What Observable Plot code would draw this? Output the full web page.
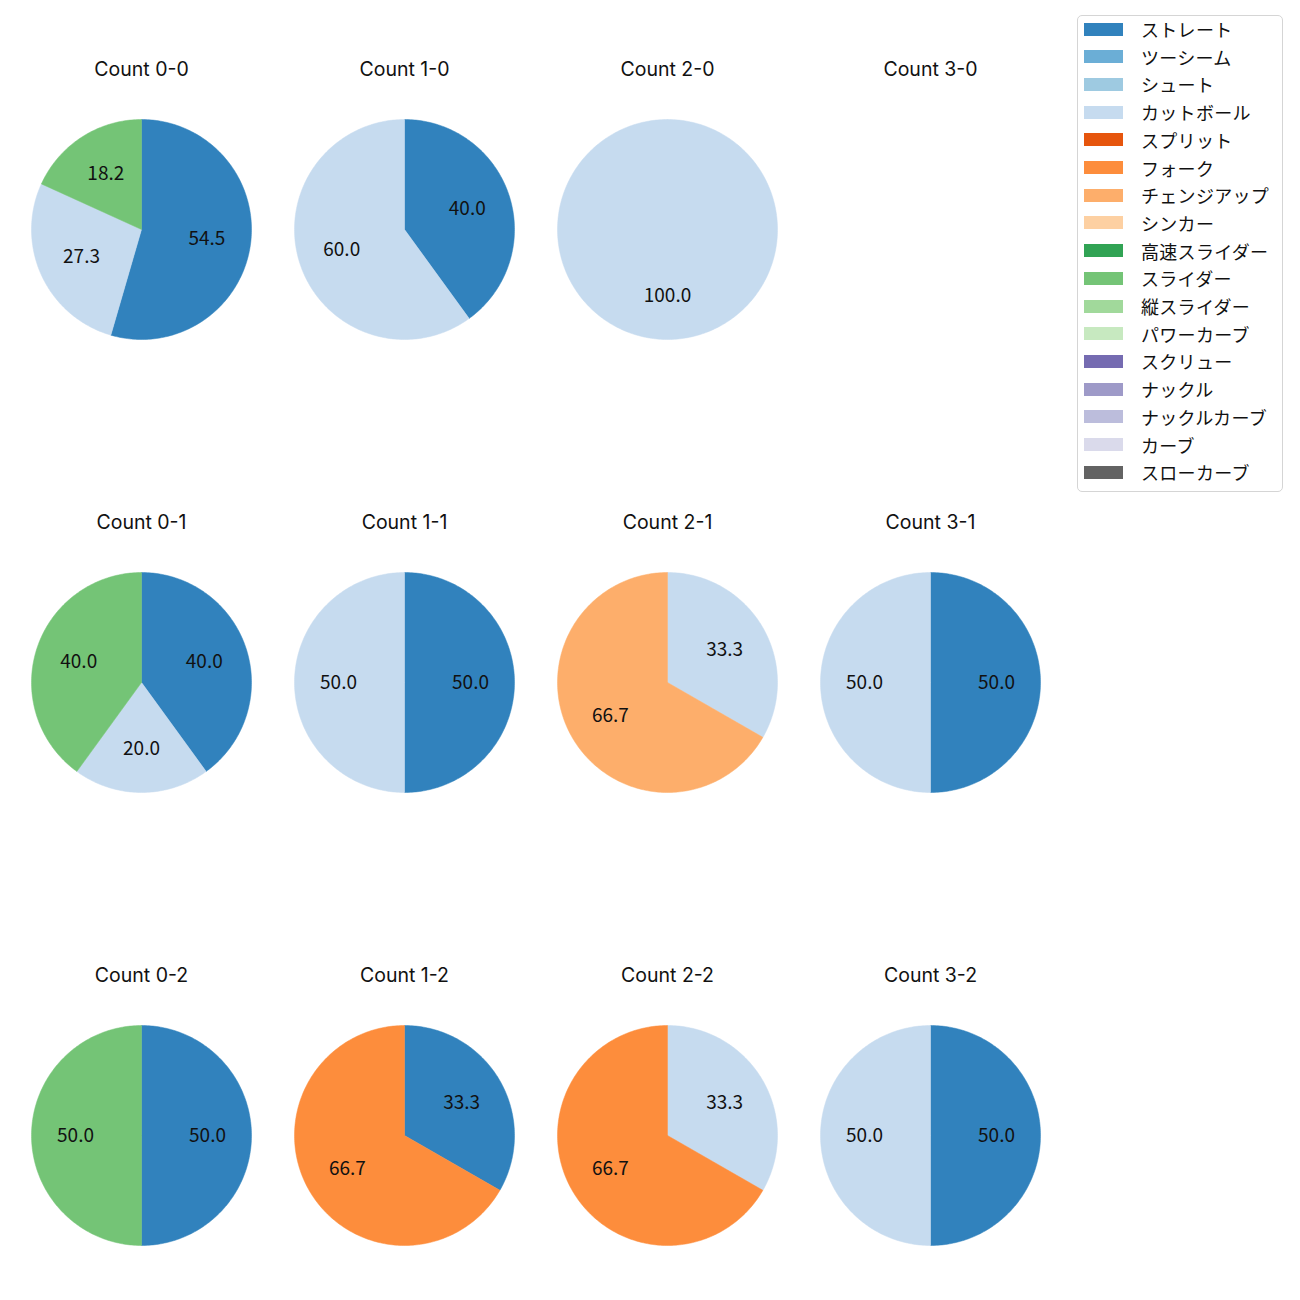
<!DOCTYPE html>
<html><head><meta charset="utf-8">
<script src="https://cdn.jsdelivr.net/npm/d3@7"></script>
<script src="https://cdn.jsdelivr.net/npm/@observablehq/plot@0.6"></script>
<style>
body{margin:0;background:#fff;font-family:"Noto Sans CJK JP","Noto Sans",sans-serif}
#wrap{position:relative;width:1300px;height:1300px}
#legend{position:absolute;left:1077px;top:15px;width:206px;height:477px;border:1px solid #d5d5d5;border-radius:5px;background:rgba(255,255,255,0.8);box-sizing:border-box}
.row{position:absolute;left:0;height:28px;width:200px}
.sw{position:absolute;left:6px;top:7.5px;width:39px;height:13px}
.lb{position:absolute;left:63px;top:0;line-height:28px;font-size:18px;color:#111;white-space:nowrap;letter-spacing:0.3px}
</style>
</head><body><div id="wrap"><div id="chart"></div><div id="legend"></div></div>
<script>
const pitchTypes = ["ストレート","ツーシーム","シュート","カットボール","スプリット","フォーク","チェンジアップ","シンカー","高速スライダー","スライダー","縦スライダー","パワーカーブ","スクリュー","ナックル","ナックルカーブ","カーブ","スローカーブ"];
const pitchColors = ["#3182bd","#6baed6","#9ecae1","#c6dbef","#e6550d","#fd8d3c","#fdae6b","#fdd0a2","#31a354","#74c476","#a1d99b","#c7e9c0","#756bb1","#9e9ac8","#bcbddc","#dadaeb","#636363"];
const countLabels = ["0-0","1-0","2-0","3-0","0-1","1-1","2-1","3-1","0-2","1-2","2-2","3-2"];
const sliceCount = ["0-0","0-0","0-0","1-0","1-0","2-0","0-1","0-1","0-1","1-1","1-1","2-1","2-1","3-1","3-1","0-2","0-2","1-2","1-2","2-2","2-2","3-2","3-2"];
const sliceType = ["ストレート","カットボール","スライダー","ストレート","カットボール","カットボール","ストレート","カットボール","スライダー","ストレート","カットボール","カットボール","チェンジアップ","ストレート","カットボール","ストレート","スライダー","ストレート","フォーク","カットボール","フォーク","ストレート","カットボール"];
const sliceValue = [54.5,27.3,18.2,40.0,60.0,100.0,40.0,20.0,40.0,50.0,50.0,33.3,66.7,50.0,50.0,50.0,50.0,33.3,66.7,33.3,66.7,50.0,50.0];

const R = 110, colW = 240, colStep = 263, rowH = 330, rowStep = 453;
const pie = d3.pie().sort(null).value(d => d.value);
const slices = [], labels = [];
const titles = countLabels.map(c => { const [b, s] = c.split("-").map(Number); return {b, s, text: "Count " + c}; });
for (const c of countLabels) {
  const [b, s] = c.split("-").map(Number);
  const rows = sliceValue.map((v, i) => ({count: sliceCount[i], type: sliceType[i], value: v})).filter(d => d.count === c);
  if (!rows.length) continue;
  for (const a of pie(rows)) {
    const key = c + "|" + a.data.type, type = a.data.type;
    slices.push({key, b, s, type, x: 0, y: 0});
    const n = Math.max(2, Math.ceil((a.endAngle - a.startAngle) / (Math.PI / 180)));
    for (let k = 0; k <= n; k++) {
      const t = a.startAngle + (a.endAngle - a.startAngle) * k / n;
      slices.push({key, b, s, type, x: Math.sin(t), y: Math.cos(t)});
    }
    slices.push({key, b, s, type, x: 0, y: 0});
    const m = (a.startAngle + a.endAngle) / 2;
    labels.push({b, s, x: 0.6 * Math.sin(m), y: 0.6 * Math.cos(m), text: a.data.value.toFixed(1)});
  }
}

const chart = Plot.plot({
  width: 1300, height: 1300,
  marginLeft: 21, marginRight: 250, marginTop: 64, marginBottom: 0,
  fx: {domain: [0,1,2,3], paddingInner: (colStep - colW) / colStep, paddingOuter: 0, axis: null},
  fy: {domain: [0,1,2], paddingInner: (rowStep - rowH) / rowStep, paddingOuter: 0, axis: null},
  x: {domain: [-colW / 2 / R, colW / 2 / R], axis: null},
  y: {domain: [-rowH / 2 / R, rowH / 2 / R], axis: null},
  color: {domain: pitchTypes, range: pitchColors},
  style: {fontFamily: '"Noto Sans CJK JP","Noto Sans",sans-serif', background: "white"},
  marks: [
    Plot.line(slices, {x: "x", y: "y", z: "key", fill: "type", stroke: "type", strokeWidth: 0.5, fx: "b", fy: "s", curve: "linear"}),
    Plot.text(labels, {x: "x", y: "y", text: "text", fx: "b", fy: "s", fontSize: 19, fill: "#111"}),
    Plot.text(titles, {text: "text", fx: "b", fy: "s", frameAnchor: "top", dy: -2, fontSize: 19.5, fontFamily: "Inter, sans-serif", fill: "#111"})
  ]
});
document.getElementById("chart").appendChild(chart);

const legend = document.getElementById("legend");
pitchTypes.forEach((t, i) => {
  const row = document.createElement("div");
  row.className = "row";
  row.style.top = (-1 + i * 27.7) + "px";
  row.innerHTML = `<div class="sw" style="background:${pitchColors[i]}"></div><div class="lb">${t}</div>`;
  legend.appendChild(row);
});
</script>
</body></html>
